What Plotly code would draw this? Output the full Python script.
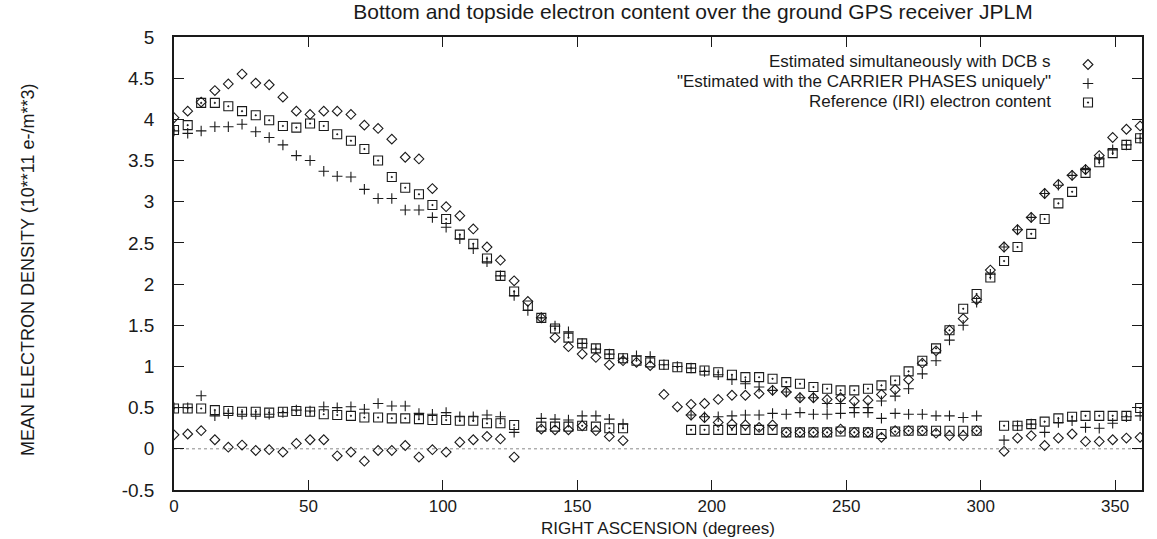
import plotly.graph_objects as go

# Right ascension of each sample (degrees)
ra = [0.0, 5.1, 10.1, 15.2, 20.2, 25.3, 30.4, 35.4, 40.5, 45.5, 50.6, 55.7,
      60.7, 65.8, 70.8, 75.9, 81.0, 86.0, 91.1, 96.1, 101.2, 106.3, 111.3, 116.4,
      121.4, 126.5, 131.6, 136.6, 141.7, 146.7, 151.8, 156.9, 161.9, 167.0, 172.0, 177.1,
      182.2, 187.2, 192.3, 197.3, 202.4, 207.5, 212.5, 217.6, 222.6, 227.7, 232.8, 237.8,
      242.9, 247.9, 253.0, 258.1, 263.1, 268.2, 273.2, 278.3, 283.4, 288.4, 293.5, 298.5,
      303.6, 308.7, 313.7, 318.8, 323.8, 328.9, 334.0, 339.0, 344.1, 349.1, 354.2, 359.3]

N = None
# Estimated simultaneously with DCBs
dcb_upper = [4.02, 4.10, 4.21, 4.35, 4.43, 4.55, 4.44, 4.42, 4.27, 4.10, 4.06, 4.10,
             4.10, 4.06, 3.93, 3.89, 3.76, 3.54, 3.52, 3.16, 2.94, 2.83, 2.67, 2.45,
             2.29, 2.04, 1.79, 1.59, 1.35, 1.24, 1.15, 1.11, 1.02, 1.07, 1.05, 1.01,
             0.66, 0.51, 0.54, 0.55, 0.60, 0.65, 0.65, 0.67, 0.71, 0.69, 0.62, 0.62,
             0.60, 0.62, 0.58, 0.59, 0.66, 0.72, 0.84, 1.04, 1.19, 1.44, 1.58, 1.81,
             2.17, 2.45, 2.66, 2.81, 3.10, 3.21, 3.32, 3.39, 3.56, 3.78, 3.88, 3.92]
dcb_lower = [0.17, 0.18, 0.22, 0.11, 0.02, 0.045, -0.02, -0.01, -0.04, 0.065, 0.11, 0.11,
             -0.085, -0.04, -0.15, -0.02, -0.02, 0.04, -0.10, -0.01, -0.04, 0.08, 0.11, 0.15,
             0.12, -0.10, N, 0.24, 0.23, 0.23, 0.28, 0.22, 0.15, 0.10, N, N,
             N, N, 0.41, 0.38, 0.32, 0.30, 0.29, 0.26, 0.29, 0.20, 0.20, 0.20,
             0.20, 0.24, 0.20, 0.20, 0.14, 0.22, 0.22, 0.22, 0.19, 0.16, 0.16, 0.22,
             N, -0.03, 0.13, 0.16, 0.04, 0.13, 0.18, 0.09, 0.09, 0.11, 0.13, 0.14]

# Estimated with the carrier phases uniquely
carrier_upper = [3.86, 3.83, 3.86, 3.91, 3.91, 3.94, 3.85, 3.78, 3.69, 3.56, 3.50, 3.37,
                 3.31, 3.30, 3.15, 3.04, 3.04, 2.90, 2.90, 2.81, 2.69, 2.55, 2.43, 2.27,
                 2.10, 1.86, 1.68, 1.59, 1.49, 1.42, 1.28, 1.21, 1.15, 1.10, 1.13, 1.12,
                 1.02, 1.00, 0.98, 0.94, 0.90, 0.84, 0.79, 0.75, 0.71, 0.69, 0.62, 0.62,
                 0.55, 0.55, 0.50, 0.50, 0.58, 0.64, 0.73, 0.91, 1.07, 1.32, 1.50, 1.78,
                 2.12, 2.45, 2.66, 2.81, 3.10, 3.20, 3.32, 3.39, 3.52, 3.63, 3.69, 3.77]
carrier_lower = [0.50, 0.50, 0.645, 0.40, 0.43, 0.42, 0.42, 0.42, 0.44, 0.47, 0.46, 0.51,
                 0.50, 0.51, 0.48, 0.55, 0.52, 0.52, 0.43, 0.42, 0.44, 0.39, 0.39, 0.41,
                 0.39, 0.20, N, 0.37, 0.36, 0.35, 0.40, 0.40, 0.36, 0.30, N, N,
                 N, N, 0.41, 0.39, 0.39, 0.40, 0.41, 0.41, 0.43, 0.42, 0.44, 0.42,
                 0.42, 0.43, 0.44, 0.44, 0.37, 0.43, 0.42, 0.42, 0.40, 0.40, 0.38, 0.40,
                 N, 0.105, 0.28, 0.30, 0.20, 0.32, 0.34, 0.26, 0.25, 0.31, 0.39, 0.40]

# Reference (IRI) electron content
iri_upper = [3.87, 3.93, 4.20, 4.20, 4.16, 4.10, 4.05, 3.99, 3.92, 3.90, 3.95, 3.92,
             3.82, 3.74, 3.64, 3.50, 3.30, 3.17, 3.09, 2.96, 2.79, 2.60, 2.49, 2.31,
             2.10, 1.91, 1.74, 1.59, 1.46, 1.35, 1.28, 1.22, 1.15, 1.10, 1.07, 1.05,
             1.02, 0.99, 0.98, 0.95, 0.93, 0.90, 0.87, 0.87, 0.85, 0.81, 0.79, 0.75,
             0.73, 0.71, 0.71, 0.73, 0.77, 0.83, 0.94, 1.07, 1.22, 1.44, 1.70, 1.88,
             2.08, 2.28, 2.45, 2.61, 2.79, 2.98, 3.12, 3.35, 3.48, 3.59, 3.69, 3.77]
iri_lower = [0.49, 0.49, 0.49, 0.47, 0.46, 0.45, 0.45, 0.44, 0.45, 0.46, 0.45, 0.42,
             0.41, 0.40, 0.38, 0.38, 0.37, 0.37, 0.36, 0.35, 0.35, 0.34, 0.34, 0.31,
             0.31, 0.29, N, 0.27, 0.27, 0.27, 0.28, 0.27, 0.25, 0.25, N, N,
             N, N, 0.23, 0.23, 0.23, 0.23, 0.23, 0.23, 0.23, 0.20, 0.20, 0.20,
             0.20, 0.21, 0.20, 0.20, 0.18, 0.21, 0.22, 0.22, 0.22, 0.22, 0.22, 0.22,
             N, 0.28, 0.28, 0.30, 0.33, 0.37, 0.39, 0.40, 0.40, 0.40, 0.40, 0.495]

series_names = ["Estimated simultaneously with DCB s",
                "\"Estimated with the CARRIER PHASES uniquely\"",
                "Reference (IRI) electron content"]

x_tick_vals = [0, 50, 100, 150, 200, 250, 300, 350]
x_tick_labels = ["0", "50", "100", "150", "200", "250", "300", "350"]
y_tick_vals = [-0.5, 0, 0.5, 1, 1.5, 2, 2.5, 3, 3.5, 4, 4.5, 5]
y_tick_labels = ["-0.5", "0", "0.5", "1", "1.5", "2", "2.5", "3", "3.5", "4", "4.5", "5"]

FONT = "Liberation Sans, Arial, Helvetica, sans-serif"
INK = "#1a1a1a"

# plot-area geometry in pixels
L, R, T, B = 174, 1142, 37, 490
PW, PH = R - L, B - T


def points(upper, lower):
    xs, ys = [], []
    for xv, yv in zip(ra, upper):
        if yv is not None:
            xs.append(xv); ys.append(yv)
    for xv, yv in zip(ra, lower):
        if yv is not None:
            xs.append(xv); ys.append(yv)
    return xs, ys


fig = go.Figure()
styles = [
    dict(symbol="diamond-open", size=7.5),
    dict(symbol="cross-thin-open", size=7.5),
    dict(symbol="square-open-dot", size=9),
]
for name, (up, lo), st in zip(series_names,
                              [(dcb_upper, dcb_lower), (carrier_upper, carrier_lower),
                               (iri_upper, iri_lower)], styles):
    xs, ys = points(up, lo)
    fig.add_trace(go.Scatter(
        x=xs, y=ys, mode="markers", name=name,
        marker=dict(symbol=st["symbol"], size=st["size"], color=INK,
                    line=dict(color=INK, width=1.1)),
    ))

# legend text, right-aligned to the left of the legend symbols (gnuplot style)
for k, name in enumerate(series_names):
    fig.add_annotation(
        xref="paper", yref="paper", x=(1053 - L) / PW, y=1 - (62 + 19.5 * k - T) / PH,
        xanchor="right", yanchor="middle", text=name, showarrow=False,
        font=dict(family=FONT, size=17, color=INK),
    )

# y-axis title
fig.add_annotation(
    xref="paper", yref="paper", x=(28 - L) / PW, y=1 - (270 - T) / PH,
    xanchor="center", yanchor="middle", textangle=-90, showarrow=False,
    text="MEAN ELECTRON DENSITY (10**11 e-/m**3)",
    font=dict(family=FONT, size=18, color=INK),
)

# x-axis title
fig.add_annotation(
    xref="paper", yref="paper", x=0.5, y=-(528 - B) / PH,
    xanchor="center", yanchor="middle", showarrow=False,
    text="RIGHT ASCENSION (degrees)",
    font=dict(family=FONT, size=17, color=INK),
)

# dotted zero axis
fig.add_shape(type="line", xref="x", yref="y", x0=0, x1=360, y0=0, y1=0,
              line=dict(color="#8a8a8a", width=1, dash="dot"), layer="below")

axis_common = dict(
    ticks="inside", ticklen=10, tickwidth=1, tickcolor=INK,
    showline=True, linecolor=INK, linewidth=1.5, mirror="ticks",
    showgrid=False, zeroline=False, automargin=False,
)

fig.update_layout(
    width=1157, height=539, autosize=False,
    paper_bgcolor="white", plot_bgcolor="white",
    margin=dict(l=L, r=1157 - R, t=T, b=539 - B, pad=0),
    title=dict(text="Bottom and topside electron content over the ground GPS receiver JPLM",
               x=693 / 1157, xanchor="center", y=1 - 12 / 539, yanchor="middle",
               font=dict(family=FONT, size=21, color=INK)),
    xaxis=dict(range=[0, 360], tickvals=x_tick_vals, ticktext=x_tick_labels,
               ticklabelstandoff=0, tickfont=dict(family=FONT, size=17, color=INK),
               **axis_common),
    yaxis=dict(range=[-0.5, 5], tickvals=y_tick_vals, ticktext=y_tick_labels,
               ticklabelstandoff=14, tickfont=dict(family=FONT, size=19, color=INK),
               **axis_common),
    showlegend=True,
    legend=dict(x=(1068 - L) / PW, xanchor="left", y=1 - (50 - T) / PH, yanchor="top",
                bgcolor="rgba(0,0,0,0)", borderwidth=0,
                font=dict(family=FONT, size=1, color="rgba(0,0,0,0)"),
                itemsizing="trace"),
)

fig.write_html("out.html")
